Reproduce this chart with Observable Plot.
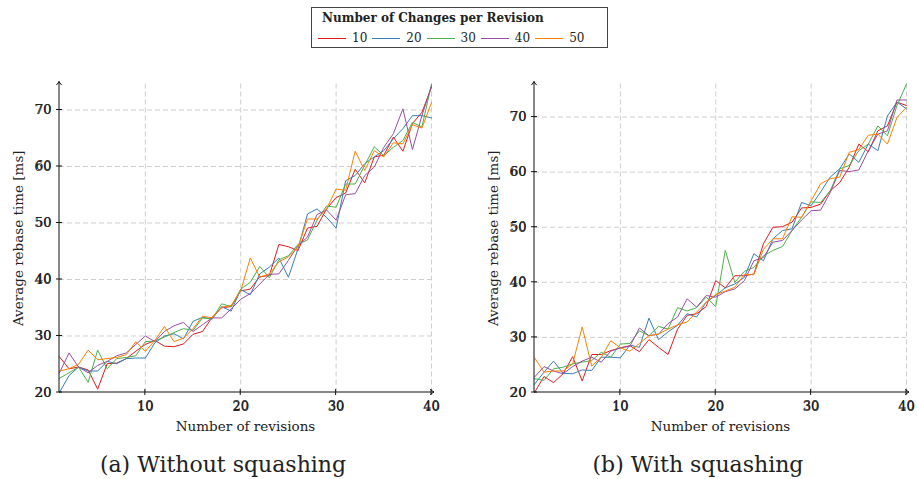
<!DOCTYPE html>
<html><head><meta charset="utf-8">
<script src="https://cdn.jsdelivr.net/npm/d3@7"></script>
<script src="https://cdn.jsdelivr.net/npm/@observablehq/plot@0.6"></script>
<style>
body{margin:0;background:#fff;font-family:"DejaVu Serif",serif;color:#222;}
#wrap{position:relative;width:917px;height:479px;overflow:hidden;}
.panel{position:absolute;top:60px;width:458px;height:380px;}
.panel svg{max-width:none !important;overflow:visible;}
#legend{position:absolute;left:311px;top:7px;width:297px;height:41px;border:1px solid #444;box-sizing:border-box;background:#fff;}
#legend .title{position:absolute;left:10px;top:3px;font-weight:bold;font-size:12px;white-space:nowrap;}
#legend .row{position:absolute;left:6px;top:23px;display:flex;align-items:center;font-size:12px;white-space:nowrap;}
#legend .sw{display:inline-block;width:28px;height:0;border-top:1.2px solid;margin-right:6px;}
#legend .lab{margin-right:5px;}
.cap{position:absolute;top:454px;font-size:22px;line-height:22px;white-space:nowrap;transform:translateX(-50%);}
</style></head><body>
<div id="wrap">
  <div id="legend"><div class="title">Number of Changes per Revision</div><div class="row" id="legrow"></div></div>
  <div class="panel" id="left" style="left:0px"></div>
  <div class="panel" id="right" style="left:475px"></div>
  <div class="cap" style="left:223px">(a) Without squashing</div>
  <div class="cap" style="left:698px">(b) With squashing</div>
</div>
<script>
const revisions = [1,2,3,4,5,6,7,8,9,10,11,12,13,14,15,16,17,18,19,20,21,22,23,24,25,26,27,28,29,30,31,32,33,34,35,36,37,38,39,40];
const seriesLabels = ["10","20","30","40","50"];
const colors = ["#e41a1c","#377eb8","#4daf4a","#984ea3","#ff7f00"];
const xTicks = [10,20,30,40];
const yTicks = [20,30,40,50,60,70];

// (a) Without squashing
const noSq10 = [26.3,24.2,24.5,24.0,20.6,25.1,25.2,26.0,27.3,28.5,29.2,28.2,28.1,28.6,30.3,30.8,33.3,35.0,35.2,38.0,38.3,40.5,40.7,46.2,45.8,45.1,49.1,49.4,52.5,54.5,55.3,59.5,57.1,61.7,62.0,65.2,62.7,67.6,69.6,74.0];
const noSq20 = [20.0,23.0,24.5,23.8,23.8,25.5,25.1,26.0,26.1,26.1,28.8,30.0,30.4,29.5,32.6,33.3,33.0,35.2,34.4,38.2,37.3,41.0,42.2,43.8,40.4,45.4,51.6,52.5,51.0,49.1,57.5,58.4,60.5,61.7,62.8,64.9,66.7,69.0,69.0,68.6];
const noSq30 = [22.5,23.5,24.5,21.8,27.5,24.2,26.0,26.2,26.5,29.0,29.1,29.8,30.6,31.3,31.0,33.2,33.0,35.7,35.2,38.3,39.5,42.3,40.3,43.5,44.2,46.2,47.0,50.5,53.0,52.8,56.9,56.9,60.2,63.5,61.9,63.4,64.6,67.8,67.0,74.6];
const noSq40 = [23.5,27.0,24.5,23.5,24.8,25.5,26.5,27.0,28.5,30.0,29.0,30.8,31.8,32.4,30.8,32.0,33.2,33.2,34.8,36.5,37.5,39.2,40.9,41.0,43.4,46.0,47.5,51.5,52.3,50.5,55.0,55.2,58.4,59.9,63.4,65.8,70.2,63.0,69.0,74.3];
const noSq50 = [23.8,24.2,25.0,27.5,25.8,26.0,26.2,26.7,29.0,27.3,29.2,31.7,29.0,29.6,31.3,33.5,33.2,35.1,35.4,38.0,43.8,40.4,41.0,43.1,44.0,45.7,50.7,50.7,52.5,56.0,55.8,62.7,59.3,62.8,61.7,64.2,64.0,67.4,66.8,71.3];

// (b) With squashing
const sq10 = [20.0,22.9,21.8,23.4,26.5,22.1,26.9,26.9,27.6,28.1,28.5,27.4,29.6,28.2,26.9,31.5,34.0,34.3,35.6,40.3,39.0,41.2,41.2,41.5,47.0,50.0,50.1,50.9,53.5,53.6,54.2,56.6,58.1,60.9,65.1,63.7,67.5,68.4,72.7,72.1];
const sq20 = [21.5,23.7,25.7,23.5,23.4,24.1,24.0,26.4,26.4,26.3,28.6,28.2,33.5,29.6,31.0,32.2,34.3,33.7,36.4,37.6,39.0,39.7,40.9,45.2,43.9,47.9,49.4,49.7,54.5,53.9,56.4,59.1,60.6,63.3,61.8,65.1,63.9,70.2,72.7,71.5];
const sq30 = [22.5,22.2,24.3,24.6,25.2,25.5,25.8,27.3,26.4,28.8,28.9,31.2,30.3,32.0,31.5,35.4,34.8,35.4,37.3,35.6,45.8,40.0,42.0,42.7,44.8,45.8,46.5,49.4,51.8,54.6,54.5,56.6,60.6,61.2,63.9,65.1,68.4,66.6,72.1,76.0];
const sq40 = [22.8,24.7,23.9,23.4,24.7,25.7,26.4,25.5,27.5,28.1,28.4,31.7,30.3,30.6,32.5,33.7,37.0,35.5,37.6,37.3,38.3,38.8,40.3,43.9,44.5,47.3,47.6,49.4,51.3,53.0,53.1,56.3,60.3,60.1,60.4,63.9,66.9,67.5,73.1,73.1];
const sq50 = [26.3,23.7,23.9,23.9,25.2,31.9,24.8,26.4,29.4,28.1,27.5,28.9,30.3,30.6,31.5,32.3,32.8,34.6,36.4,37.8,38.4,39.1,41.4,41.4,46.0,47.9,47.9,51.9,51.8,54.8,57.9,58.8,59.1,63.6,64.1,66.7,66.9,65.1,69.9,71.8];

function tidy(seriesArrays) {
  const rows = [];
  seriesArrays.forEach((arr, si) => {
    arr.forEach((v, i) => rows.push({rev: revisions[i], time: v, series: seriesLabels[si]}));
  });
  return rows;
}

function axesWithArrows() {
  return (index, scales, values, dims) => {
    const {width, height, marginLeft, marginRight, marginTop, marginBottom} = dims;
    const x0 = marginLeft, y0 = height - marginBottom, x1 = width - marginRight, y1 = marginTop;
    const g = d3.create("svg:g").attr("fill", "none").attr("stroke", "#111").attr("stroke-width", 1);
    const ty = y1 - 2, tx = x1 + 3;
    g.append("path").attr("d", `M${x0},${y0}V${ty}`);
    g.append("path").attr("d", `M${x0},${y0}H${tx}`);
    g.append("path").attr("d", `M${x0-2.6},${ty+3.6}Q${x0-0.6},${ty+1.2} ${x0},${ty}Q${x0+0.6},${ty+1.2} ${x0+2.6},${ty+3.6}`);
    g.append("path").attr("d", `M${tx-3.6},${y0-2.6}Q${tx-1.2},${y0-0.6} ${tx},${y0}Q${tx-1.2},${y0+0.6} ${tx-3.6},${y0+2.6}`);
    xTicks.forEach(t => { const px = scales.x(t); g.append("path").attr("d", `M${px},${y0-3}V${y0+3}`); });
    yTicks.forEach(t => { const py = scales.y(t); g.append("path").attr("d", `M${x0-3},${py}H${x0+3}`); });
    return g.node();
  };
}

function panel(seriesArrays) {
  const data = tidy(seriesArrays);
  const ymax = d3.max(data, d => d.time);
  return Plot.plot({
    width: 458, height: 380,
    marginLeft: 59, marginRight: 27, marginTop: 23.5, marginBottom: 48,
    style: {fontFamily: '"DejaVu Serif", serif', fontSize: "12px", color: "#222", background: "#fff"},
    x: {domain: [1, 40]},
    y: {domain: [20, ymax]},
    color: {domain: seriesLabels, range: colors},
    marks: [
      Plot.gridX(xTicks, {stroke: "#cfcfcf", strokeOpacity: 1, strokeDasharray: "5,3"}),
      Plot.gridY(yTicks.slice(1), {stroke: "#cfcfcf", strokeOpacity: 1, strokeDasharray: "5,3"}),
      Plot.lineY(data, {x: "rev", y: "time", z: "series", stroke: "series", strokeWidth: 1}),
      Plot.axisX(xTicks, {tickSize: 0, tickPadding: 9, label: "Number of revisions", labelAnchor: "center", labelArrow: "none", labelOffset: 38, fontSize: 13.5}),
      Plot.axisX(xTicks, {tickSize: 0, tickPadding: 9, label: null, fontSize: 12.5}),
      Plot.axisY(yTicks, {tickSize: 0, tickPadding: 8, label: "Average rebase time [ms]", labelAnchor: "center", labelArrow: "none", labelOffset: 46, fontSize: 13.5}),
      Plot.axisY(yTicks, {tickSize: 0, tickPadding: 8, label: null, fontSize: 12.5}),
      axesWithArrows()
    ]
  });
}

document.getElementById("left").appendChild(panel([noSq10, noSq20, noSq30, noSq40, noSq50]));
document.getElementById("right").appendChild(panel([sq10, sq20, sq30, sq40, sq50]));

const row = document.getElementById("legrow");
seriesLabels.forEach((s, i) => {
  const sw = document.createElement("span"); sw.className = "sw"; sw.style.borderTopColor = colors[i];
  const lab = document.createElement("span"); lab.className = "lab"; lab.textContent = s;
  row.appendChild(sw); row.appendChild(lab);
});
</script>
</body></html>
